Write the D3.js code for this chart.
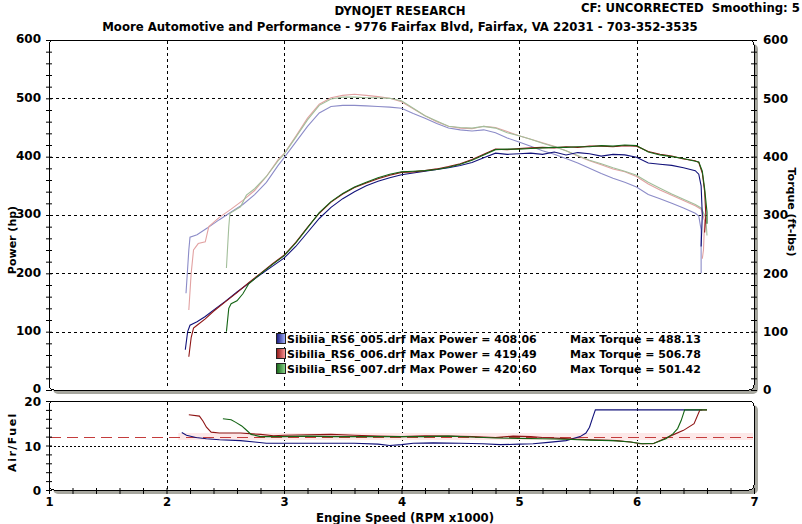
<!DOCTYPE html>
<html>
<head>
<meta charset="utf-8">
<script src="https://cdn.jsdelivr.net/npm/d3@7"></script>
<style>
  body { margin: 0; background: #fff; }
  svg text { font-family: "DejaVu Sans", Verdana, sans-serif; font-weight: bold; fill: #000; }
  .cond { font-family: "DejaVu Sans Condensed", "Liberation Sans Narrow", sans-serif !important; }
</style>
</head>
<body>
<div id="dyno"></div>
<script>
// run files + legend numbers
var runs = ["Sibilia_RS6_005.drf", "Sibilia_RS6_006.drf", "Sibilia_RS6_007.drf"];
var maxPower = ["408.06", "419.49", "420.60"];
var maxTorque = ["488.13", "506.78", "501.42"];

// axis tick labels
var rpmTicks = [1, 2, 3, 4, 5, 6, 7];
var powerTicks = [0, 100, 200, 300, 400, 500, 600];
var afrTicks = [0, 10, 20];

// power (hp) : [rpm x1000, hp]
var hp005 = [[2.16,69],[2.18,100],[2.20,111],[2.26,117],[2.33,126],[2.40,137],[2.50,152],[2.60,168],[2.70,183],[2.80,198],[2.90,212],[3.00,226],[3.10,246],[3.20,270],[3.30,294],[3.40,313],[3.50,328],[3.60,340],[3.70,350],[3.80,358],[3.90,364],[4.00,369],[4.10,372],[4.20,375],[4.30,378],[4.40,381],[4.50,385],[4.60,390],[4.70,398],[4.80,406],[4.90,404],[5.00,405],[5.10,406],[5.20,404],[5.30,408],[5.40,403],[5.50,407],[5.60,405],[5.70,401],[5.80,404],[5.90,403],[6.00,399],[6.10,389],[6.20,387],[6.30,385],[6.40,381],[6.50,376],[6.53,370],[6.55,350],[6.56,300],[6.55,246]];
var hp006 = [[2.19,57],[2.21,90],[2.23,106],[2.26,111],[2.33,122],[2.40,135],[2.50,151],[2.60,167],[2.70,184],[2.80,200],[2.90,216],[3.00,231],[3.10,253],[3.20,279],[3.30,303],[3.40,322],[3.50,336],[3.60,347],[3.70,355],[3.80,362],[3.90,368],[4.00,373],[4.10,374],[4.20,376],[4.30,379],[4.40,383],[4.50,388],[4.60,395],[4.70,404],[4.80,413],[4.90,412],[5.00,414],[5.10,415],[5.20,416],[5.30,415],[5.40,417],[5.50,416],[5.60,418],[5.70,418],[5.80,417],[5.90,419],[6.00,418],[6.10,409],[6.20,404],[6.30,401],[6.40,396],[6.50,393],[6.53,390],[6.56,372],[6.58,340],[6.59,300],[6.58,270]];
var hp007 = [[2.51,100],[2.53,140],[2.55,148],[2.60,153],[2.65,165],[2.70,182],[2.80,199],[2.90,215],[3.00,230],[3.10,252],[3.20,278],[3.30,304],[3.40,323],[3.50,337],[3.60,348],[3.70,356],[3.80,364],[3.90,370],[4.00,374],[4.10,375],[4.20,376],[4.30,378],[4.40,382],[4.50,387],[4.60,394],[4.70,403],[4.80,412],[4.90,413],[5.00,413],[5.10,414],[5.20,415],[5.30,416],[5.40,416],[5.50,417],[5.60,417],[5.70,419],[5.80,418],[5.90,420],[6.00,419],[6.10,408],[6.20,403],[6.30,400],[6.40,397],[6.50,392],[6.53,391],[6.56,375],[6.58,345],[6.60,305],[6.60,285]];

// torque (ft-lbs) : [rpm x1000, ft-lbs]
var tq005 = [[2.166,166],[2.19,240],[2.20,262],[2.26,266],[2.35,278],[2.45,292],[2.55,305],[2.65,318],[2.75,335],[2.85,356],[2.95,385],[3.00,398],[3.10,425],[3.20,452],[3.30,475],[3.40,486],[3.50,488],[3.60,488],[3.70,487],[3.80,486],[3.90,485],[4.00,483],[4.10,474],[4.20,466],[4.30,457],[4.40,449],[4.50,446],[4.60,444],[4.70,446],[4.80,441],[4.90,432],[5.00,425],[5.10,418],[5.20,410],[5.30,404],[5.40,397],[5.50,389],[5.60,380],[5.70,371],[5.80,363],[5.90,356],[6.00,348],[6.10,335],[6.20,328],[6.30,320],[6.40,312],[6.50,303],[6.53,298],[6.55,275],[6.55,200]];
var tq006 = [[2.19,137],[2.21,200],[2.23,240],[2.27,251],[2.33,254],[2.36,280],[2.45,296],[2.55,310],[2.65,325],[2.75,342],[2.85,366],[2.95,395],[3.00,405],[3.10,435],[3.20,466],[3.30,490],[3.40,501],[3.50,505],[3.60,507],[3.70,505],[3.80,503],[3.90,500],[4.00,494],[4.10,482],[4.20,470],[4.30,460],[4.40,452],[4.50,449],[4.60,448],[4.70,452],[4.80,450],[4.90,443],[5.00,436],[5.10,430],[5.20,424],[5.30,418],[5.40,410],[5.50,401],[5.60,393],[5.70,386],[5.80,379],[5.90,374],[6.00,366],[6.10,353],[6.20,343],[6.30,334],[6.40,325],[6.50,316],[6.55,310],[6.58,290],[6.57,240],[6.56,225]];
var tq007 = [[2.51,209],[2.53,280],[2.54,303],[2.63,314],[2.68,334],[2.75,345],[2.85,366],[2.95,393],[3.00,404],[3.10,433],[3.20,463],[3.30,488],[3.40,499],[3.50,502],[3.60,502],[3.70,501],[3.80,501],[3.90,500],[4.00,496],[4.10,483],[4.20,470],[4.30,461],[4.40,452],[4.50,450],[4.60,449],[4.70,452],[4.80,449],[4.90,441],[5.00,436],[5.10,430],[5.20,423],[5.30,417],[5.40,410],[5.50,402],[5.60,394],[5.70,388],[5.80,381],[5.90,375],[6.00,368],[6.10,356],[6.20,346],[6.30,336],[6.40,327],[6.50,318],[6.55,312],[6.59,295],[6.60,265]];

// air/fuel ratio : [rpm x1000, afr]
var afr005 = [[2.13,12.9],[2.17,12.3],[2.25,11.8],[2.34,11.5],[2.45,11.3],[2.63,11.1],[2.75,10.8],[2.85,10.5],[3.00,10.5],[3.20,10.5],[3.40,10.5],[3.60,10.5],[3.80,10.3],[3.90,10.0],[4.00,10.2],[4.10,10.5],[4.27,10.6],[4.50,10.5],[4.69,10.4],[4.84,10.2],[5.00,10.3],[5.12,10.4],[5.25,10.7],[5.40,11.1],[5.52,12.0],[5.57,12.8],[5.60,14.1],[5.63,16.5],[5.65,18.0],[6.56,18.0]];
var afr006 = [[2.19,16.9],[2.28,16.6],[2.31,15.5],[2.34,14.1],[2.38,13.0],[2.45,12.8],[2.63,12.8],[2.80,12.5],[2.91,12.2],[3.00,12.3],[3.20,12.4],[3.40,12.5],[3.60,12.3],[3.80,12.1],[4.00,12.0],[4.20,12.2],[4.40,12.1],[4.60,12.0],[4.80,11.8],[4.95,12.1],[5.10,12.0],[5.20,11.8],[5.35,11.6],[5.50,11.4],[5.69,11.2],[5.83,11.1],[5.95,10.8],[6.03,10.4],[6.14,10.4],[6.25,11.7],[6.32,12.5],[6.40,13.4],[6.49,14.9],[6.54,18.0],[6.60,18.0]];
var afr007 = [[2.48,16.0],[2.55,15.8],[2.59,15.2],[2.64,14.4],[2.67,13.7],[2.72,12.5],[2.80,12.0],[3.00,12.0],[3.20,12.1],[3.40,12.0],[3.60,12.0],[3.80,12.0],[4.00,12.0],[4.20,12.0],[4.40,12.1],[4.60,11.9],[4.80,11.7],[5.00,11.6],[5.20,11.5],[5.40,11.4],[5.60,11.2],[5.80,11.1],[5.95,10.8],[6.05,10.4],[6.15,10.5],[6.25,11.5],[6.31,12.6],[6.35,13.8],[6.38,15.6],[6.41,18.0],[6.60,18.0]];
var afrTarget = 12;
var afrRef = 10;

var powerColor = ["#12127a", "#8e1414", "#146414"];
var torqueColor = ["#8c8cc8", "#e2a2a2", "#a2be9a"];
var swatchLight = ["#a8b8ff", "#ff9c9c", "#8ed88e"];

var svg = d3.select("#dyno").append("svg")
  .attr("width", 802)
  .attr("height", 524);

var x = d3.scaleLinear().domain([1, 7]).range([49, 754]);
var y = d3.scaleLinear().domain([0, 600]).range([390, 40]);
var yA = d3.scaleLinear().domain([0, 20]).range([490, 401]);

// panels with grey drop shadow
const panel = function(top, bottom) {
  svg.append("rect")
    .attr("x", x(1) + 4).attr("y", top + 4)
    .attr("width", x(7) - x(1)).attr("height", bottom - top)
    .attr("rx", 5).attr("fill", "#a6a69e");
  svg.append("rect")
    .attr("x", x(1)).attr("y", top)
    .attr("width", x(7) - x(1)).attr("height", bottom - top)
    .attr("rx", 5).attr("fill", "#fff")
    .attr("stroke", "#000").attr("shape-rendering", "crispEdges");
}
panel(y(600), y(0));
panel(yA(20), yA(0));

// grid
var gridX = [2, 3, 4, 5, 6];
var gridY = [100, 200, 300, 400, 500];
svg.append("g").selectAll("line").data(gridX).enter().append("line")
  .attr("x1", d => Math.round(x(d)) + 0.5).attr("x2", d => Math.round(x(d)) + 0.5)
  .attr("y1", y(600) + 1).attr("y2", y(0) - 1)
  .attr("stroke", "#000").attr("stroke-dasharray", "3,3");
svg.append("g").selectAll("line").data(gridY).enter().append("line")
  .attr("x1", x(1) + 1).attr("x2", x(7) - 1)
  .attr("y1", d => Math.round(y(d)) + 0.5).attr("y2", d => Math.round(y(d)) + 0.5)
  .attr("stroke", "#000").attr("stroke-dasharray", "3,3");
svg.append("g").selectAll("line").data(gridX).enter().append("line")
  .attr("x1", d => Math.round(x(d)) + 0.5).attr("x2", d => Math.round(x(d)) + 0.5)
  .attr("y1", yA(20) + 1).attr("y2", yA(0) - 1)
  .attr("stroke", "#000").attr("stroke-dasharray", "3,3");
svg.append("line")
  .attr("x1", x(1) + 1).attr("x2", x(7) - 1)
  .attr("y1", Math.round(yA(afrRef)) + 0.5).attr("y2", Math.round(yA(afrRef)) + 0.5)
  .attr("stroke", "#000").attr("stroke-dasharray", "2,2");

// afr target line with pink haze
svg.append("line")
  .attr("x1", x(2.1)).attr("x2", x(7) - 1)
  .attr("y1", yA(afrTarget)).attr("y2", yA(afrTarget))
  .attr("stroke", "#fde8e8").attr("stroke-width", 7);
svg.append("line")
  .attr("x1", x(1) + 1).attr("x2", x(7) - 1)
  .attr("y1", Math.round(yA(afrTarget)) + 0.5).attr("y2", Math.round(yA(afrTarget)) + 0.5)
  .attr("stroke", "#c43c3c").attr("stroke-dasharray", "11,6");

// tick marks
const noLabel = function(g) { g.select(".domain").remove(); g.selectAll("text").remove(); }
svg.append("g").attr("transform", "translate(" + (x(1) + 3) + ",0)")
  .call(d3.axisLeft(y).tickValues(d3.range(0, 601, 20)).tickSize(6)).call(noLabel);
svg.append("g").attr("transform", "translate(" + (x(7) - 3) + ",0)")
  .call(d3.axisRight(y).tickValues(d3.range(0, 601, 20)).tickSize(6)).call(noLabel);
svg.append("g").attr("transform", "translate(" + (x(1) + 3) + ",0)")
  .call(d3.axisLeft(yA).tickValues(d3.range(0, 21, 2)).tickSize(6)).call(noLabel);
svg.append("g").attr("transform", "translate(0," + (yA(0) - 2) + ")")
  .call(d3.axisBottom(x).tickValues(d3.range(1, 7.01, 0.2)).tickSize(6)).call(noLabel);

// tick labels
const labels = function(g, size) {
  g.select(".domain").remove();
  g.attr("font-family", null).attr("font-size", null);
  g.selectAll("text").style("font-size", size + "px");
}
svg.append("g").attr("transform", "translate(" + x(1) + ",-1)")
  .call(d3.axisLeft(y).tickValues(powerTicks).tickSize(0).tickPadding(8)).call(labels, 12);
svg.append("g").attr("transform", "translate(" + x(7) + ",0)")
  .call(d3.axisRight(y).tickValues(powerTicks).tickSize(0).tickPadding(9)).call(labels, 12);
svg.append("g").attr("transform", "translate(" + x(1) + ",1)")
  .call(d3.axisLeft(yA).tickValues(afrTicks).tickSize(0).tickPadding(8)).call(labels, 12);
svg.append("g").attr("transform", "translate(0," + yA(0) + ")")
  .call(d3.axisBottom(x).tickValues(rpmTicks).tickFormat(d3.format("d")).tickSize(0).tickPadding(7)).call(labels, 13)
  .selectAll("text").attr("class", "cond");

// curves
var line = d3.line().x(d => x(d[0])).y(d => y(d[1]));
var lineA = d3.line().x(d => x(d[0])).y(d => yA(d[1]));
var torque = [tq005, tq006, tq007];
var power = [hp005, hp006, hp007];
var afr = [afr005, afr006, afr007];

svg.append("g").selectAll("path").data(torque).enter().append("path")
  .attr("d", line).attr("fill", "none")
  .attr("stroke", (d, i) => torqueColor[i]).attr("stroke-width", 1.1);
svg.append("g").selectAll("path").data(power).enter().append("path")
  .attr("d", line).attr("fill", "none")
  .attr("stroke", (d, i) => powerColor[i]).attr("stroke-width", 1.1);
svg.append("g").selectAll("path").data(afr).enter().append("path")
  .attr("d", lineA).attr("fill", "none")
  .attr("stroke", (d, i) => powerColor[i]).attr("stroke-width", 1.1);

// legend
var defs = svg.append("defs");
runs.forEach(function(r, i) {
  var gr = defs.append("linearGradient").attr("id", "sw" + i);
  gr.append("stop").attr("offset", "0%").attr("stop-color", powerColor[i]);
  gr.append("stop").attr("offset", "100%").attr("stop-color", swatchLight[i]);
});
var legend = svg.append("g").attr("transform", "translate(276,333)");
var row = legend.selectAll("g").data(runs).enter().append("g")
  .attr("transform", (d, i) => "translate(0," + i * 15 + ")");
row.append("rect")
  .attr("x", 0.5).attr("y", 0.5).attr("width", 9).attr("height", 10)
  .attr("fill", (d, i) => "url(#sw" + i + ")")
  .attr("stroke", "#222");
row.append("text")
  .attr("x", 11).attr("y", 10)
  .style("font-size", "11px")
  .text((d, i) => d + " Max Power = " + maxPower[i]);
row.append("text")
  .attr("x", 294).attr("y", 10)
  .style("font-size", "11px")
  .text((d, i) => "Max Torque = " + maxTorque[i]);

// titles
svg.append("text").attr("class", "cond")
  .attr("x", 400).attr("y", 15).attr("text-anchor", "middle")
  .style("font-size", "13px").text("DYNOJET RESEARCH");
svg.append("text").attr("class", "cond")
  .attr("x", 800).attr("y", 12).attr("text-anchor", "end")
  .style("font-size", "13px").style("white-space", "pre")
  .text("CF: UNCORRECTED  Smoothing: 5");
svg.append("text").attr("class", "cond")
  .attr("x", 400).attr("y", 31).attr("text-anchor", "middle")
  .style("font-size", "13px")
  .text("Moore Automotive and Performance - 9776 Fairfax Blvd, Fairfax, VA 22031 - 703-352-3535");
svg.append("text").attr("class", "cond")
  .attr("x", 405).attr("y", 522).attr("text-anchor", "middle")
  .style("font-size", "13px").text("Engine Speed (RPM x1000)");

// axis titles
svg.append("text")
  .attr("transform", "translate(16,240) rotate(-90)")
  .attr("text-anchor", "middle").style("font-size", "11px")
  .text("Power (hp)");
svg.append("text")
  .attr("transform", "translate(788,212) rotate(90)")
  .attr("text-anchor", "middle").style("font-size", "11px")
  .text("Torque (ft-lbs)");
svg.append("text")
  .attr("transform", "translate(16,442) rotate(-90)")
  .attr("text-anchor", "middle").style("font-size", "11px")
  .style("letter-spacing", "1.5px")
  .text("Air/Fuel");
</script>
</body>
</html>
